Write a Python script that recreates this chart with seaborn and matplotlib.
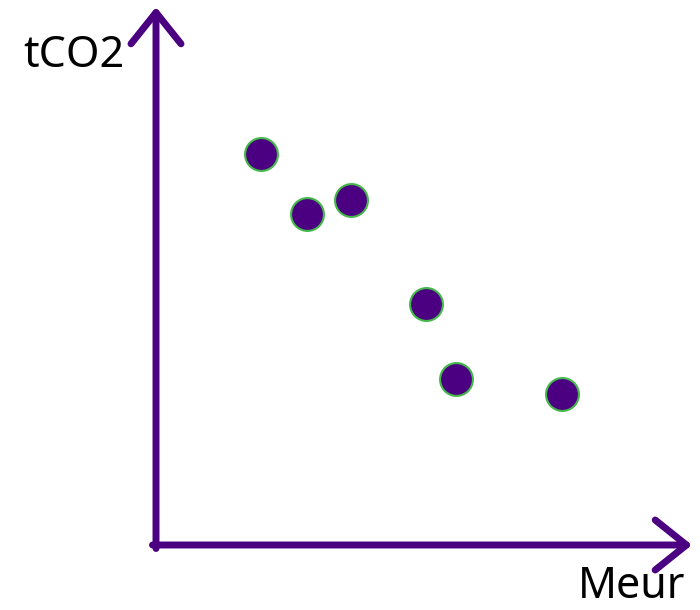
import matplotlib.pyplot as plt
import seaborn as sns
import pandas as pd

PURPLE = "#4b0082"
EDGE = "#44b84a"

meur = [1.05, 1.51, 1.95, 2.70, 3.00, 4.06]
tco2 = [3.91, 3.31, 3.45, 2.41, 1.66, 1.51]

df = pd.DataFrame({"Meur": meur, "tCO2": tco2})

sns.set_style("white")
plt.rcParams["font.family"] = ["Noto Sans", "DejaVu Sans"]

fig = plt.figure(figsize=(7, 6.1), dpi=100)
ax = fig.add_axes([0, 0, 1, 1])
ax.set_xlim(-1.56, 5.44)
ax.set_ylim(-0.65, 5.45)
ax.axis("off")

# axes drawn as thick open arrows
arrow = dict(arrowstyle="->,head_length=0.75,head_width=0.6", color=PURPLE,
             lw=5, capstyle="round", joinstyle="round", mutation_scale=30,
             shrinkA=0, shrinkB=0)
ax.annotate("", xy=(5.36, 0), xytext=(-0.035, 0), arrowprops=arrow)
ax.annotate("", xy=(0, 5.38), xytext=(0, -0.035), arrowprops=arrow)

sns.scatterplot(data=df, x="Meur", y="tCO2", ax=ax, s=560, color=PURPLE,
                edgecolor=EDGE, linewidth=1.5, zorder=3)
ax.set_xlabel("")
ax.set_ylabel("")

fig.text(23 / 700, 1 - 67 / 610, "tCO2", fontsize=31, color="black", ha="left", va="baseline")
fig.text(578 / 700, 1 - 598 / 610, "Meur", fontsize=31, color="black", ha="left", va="baseline")

fig.savefig("out.png", dpi=100)
